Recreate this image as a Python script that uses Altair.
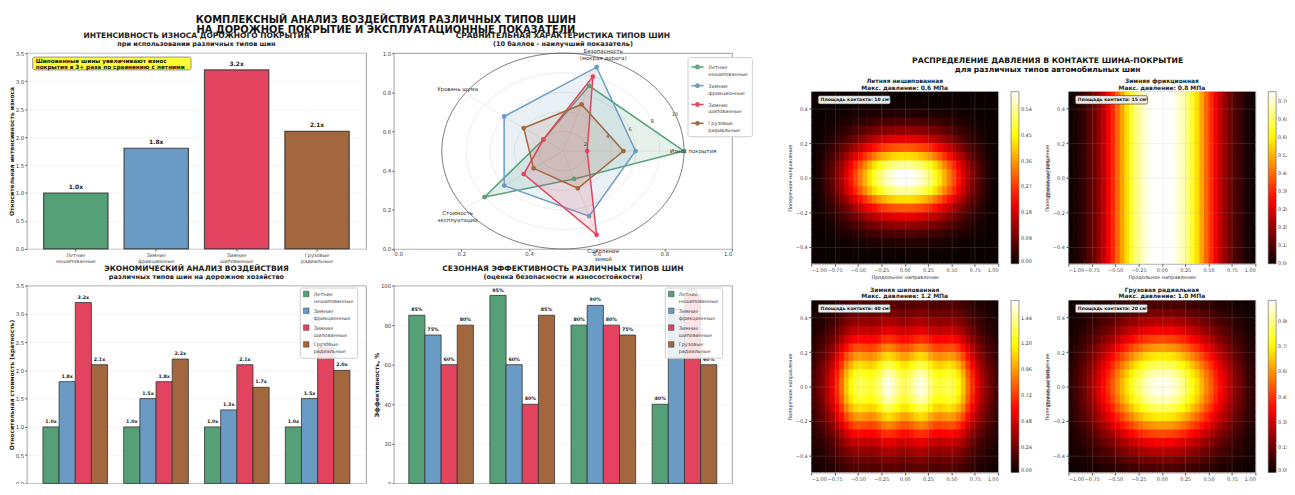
import altair as alt
import numpy as np
import pandas as pd

FONT = "DejaVu Sans"
INK = "#222222"
LABEL_SPLIT = "split(datum.label, '\\n')"

# ---------------- data ----------------
tire_types = ["Летние\nнешипованные", "Зимние\nфрикционные", "Зимние\nшипованные", "Грузовые\nрадиальные"]
tire_colors = ["#55a077", "#6a9bc4", "#e2445f", "#a2673e"]

wear_values = [1.0, 1.8, 3.2, 2.1]

radar_axes = ["Износ покрытия", "Безопасность\n(мокрая дорога)", "Уровень шума",
              "Стоимость\nэксплуатации", "Сцепление\nзимой"]
radar_summer = [10, 7, 2, 8, 3]
radar_friction = [6, 9, 6, 6, 7]
radar_studded = [2, 8, 2, 4, 9]
radar_truck = [5, 5, 4, 3, 4]
radar_ticks = [2, 4, 6, 8, 10]

econ_categories = ["Износ покрытия\n(ремонт дорог)", "Расходы на\nобслуживание",
                   "Экологический\nущерб", "Общие\nэксплуатационные"]
econ_summer = [1.0, 1.0, 1.0, 1.0]
econ_friction = [1.8, 1.5, 1.3, 1.5]
econ_studded = [3.2, 1.8, 2.1, 2.4]
econ_truck = [2.1, 2.2, 1.7, 2.0]

seasons = ["Весна", "Лето", "Осень", "Зима"]
season_summer = [85, 95, 80, 40]
season_friction = [75, 60, 90, 85]
season_studded = [60, 40, 80, 95]
season_truck = [80, 85, 75, 60]

main_title = ["КОМПЛЕКСНЫЙ АНАЛИЗ ВОЗДЕЙСТВИЯ РАЗЛИЧНЫХ ТИПОВ ШИН",
              "НА ДОРОЖНОЕ ПОКРЫТИЕ И ЭКСПЛУАТАЦИОННЫЕ ПОКАЗАТЕЛИ"]
pressure_title = ["РАСПРЕДЕЛЕНИЕ ДАВЛЕНИЯ В КОНТАКТЕ ШИНА-ПОКРЫТИЕ",
                  "для различных типов автомобильных шин"]

# pressure field: cell centres and profiles
grid_x = np.round(np.linspace(-0.975, 0.975, 40), 3)
grid_y = np.round(np.linspace(-0.475, 0.475, 20), 3)
HALF = 0.025

summer_x = [0.0, 0.02, 0.05, 0.09, 0.13, 0.18, 0.24, 0.31, 0.39, 0.47, 0.55, 0.63, 0.71, 0.78, 0.85, 0.9, 0.94, 0.97, 0.99, 1.0,
            1.0, 0.99, 0.97, 0.94, 0.9, 0.85, 0.78, 0.71, 0.63, 0.55, 0.47, 0.39, 0.31, 0.24, 0.18, 0.13, 0.09, 0.05, 0.02, 0.0]
summer_y = [0.0, 0.01, 0.04, 0.1, 0.2, 0.33, 0.5, 0.7, 0.9, 1.0, 1.0, 0.9, 0.7, 0.5, 0.33, 0.2, 0.1, 0.04, 0.01, 0.0]
friction_x = [0.04, 0.05, 0.07, 0.09, 0.12, 0.15, 0.19, 0.24, 0.3, 0.36, 0.43, 0.5, 0.57, 0.64, 0.7, 0.74, 0.77, 0.79, 0.8, 0.8,
              0.8, 0.8, 0.79, 0.77, 0.74, 0.7, 0.64, 0.57, 0.5, 0.43, 0.36, 0.3, 0.24, 0.19, 0.15, 0.12, 0.09, 0.07, 0.05, 0.04]
friction_y = [1.0, 1.0, 1.0, 1.0, 1.0, 1.0, 1.0, 1.0, 1.0, 1.0, 1.0, 1.0, 1.0, 1.0, 1.0, 1.0, 1.0, 1.0, 1.0, 1.0]
studded_x = [0.15, 0.22, 0.3, 0.4, 0.52, 0.68, 0.85, 1.05, 1.2, 1.3, 1.33, 1.3, 1.27, 1.3, 1.38, 1.5, 1.55, 1.5, 1.42, 1.35,
             1.35, 1.42, 1.5, 1.55, 1.5, 1.38, 1.3, 1.27, 1.3, 1.33, 1.3, 1.2, 1.05, 0.85, 0.68, 0.52, 0.4, 0.3, 0.22, 0.15]
studded_y = [0.13, 0.18, 0.25, 0.34, 0.45, 0.58, 0.72, 0.85, 0.95, 1.0, 1.0, 0.95, 0.85, 0.72, 0.58, 0.45, 0.34, 0.25, 0.18, 0.13]
truck_x = [0.05, 0.08, 0.12, 0.16, 0.21, 0.26, 0.32, 0.38, 0.44, 0.51, 0.58, 0.65, 0.72, 0.78, 0.84, 0.89, 0.94, 0.97, 0.99, 1.0,
           1.0, 0.99, 0.97, 0.94, 0.89, 0.84, 0.78, 0.72, 0.65, 0.58, 0.51, 0.44, 0.38, 0.32, 0.26, 0.21, 0.16, 0.12, 0.08, 0.05]
truck_y = [0.1, 0.17, 0.26, 0.36, 0.48, 0.61, 0.74, 0.86, 0.95, 1.0, 1.0, 0.95, 0.86, 0.74, 0.61, 0.48, 0.36, 0.26, 0.17, 0.1]

HOT = ["#0a0000", "#ff0000", "#ffff00", "#ffffff"]

# ---------------- helpers ----------------
PW, PH = 343, 198
PH2 = 200
ONE = pd.DataFrame({"k": [0]})


def type_scale():
    return alt.Scale(domain=tire_types, range=tire_colors)


def text_line(text, x, y, size, weight="bold", color=INK):
    return alt.Chart(ONE).mark_text(fontSize=size, fontWeight=weight, color=color, baseline="middle",
                                    align="center").encode(x=alt.value(x), y=alt.value(y), text=alt.value(text))


def panel_title(main, sub, width):
    return [text_line(main, width / 2, -17, 7.6), text_line(sub, width / 2, -9, 6.6)]


def cat_axis(**kw):
    base = dict(labelExpr=LABEL_SPLIT, labelAngle=0, labelFontSize=5, labelLineHeight=5.5,
                labelColor="#444", tickSize=2, tickColor="#555", labelPadding=2, domain=False, grid=False,
                titleFontSize=6, titleFontWeight="bold", titleColor=INK)
    base.update(kw)
    return alt.Axis(**base)


def val_axis(values, fmt, **kw):
    base = dict(values=values, format=fmt, labelFontSize=5.5, labelColor="#444", tickSize=2, tickColor="#555",
                labelPadding=1, domain=False, grid=True, gridColor="#ececec", gridWidth=0.6,
                titleFontSize=6, titleFontWeight="bold", titleColor=INK, titlePadding=0.5)
    base.update(kw)
    return alt.Axis(**base)


def inside_legend(lx, ly):
    return alt.Legend(title=None, orient="none", legendX=lx, legendY=ly, symbolType="square", symbolSize=32,
                      symbolStrokeColor="#444", symbolStrokeWidth=0.5,
                      labelExpr=LABEL_SPLIT, labelFontSize=5, labelColor="#444",
                      fillColor="rgba(255,255,255,0.85)", strokeColor="#cccccc", padding=3, cornerRadius=2,
                      rowPadding=2, labelLimit=120)


# ---------------- A: wear intensity ----------------
A_df = pd.DataFrame({"type": tire_types, "value": wear_values,
                     "label": [f"{v:.1f}x" for v in wear_values]})
A_base = alt.Chart(A_df).encode(
    x=alt.X("type:N", sort=tire_types, title=None,
            scale=alt.Scale(paddingInner=0.2, paddingOuter=0.21), axis=cat_axis()),
    y=alt.Y("value:Q", title="Относительная интенсивность износа",
            scale=alt.Scale(domain=[0, 3.5], nice=False),
            axis=val_axis([0, 0.5, 1, 1.5, 2, 2.5, 3, 3.5], ".1f")),
)
A_bars = A_base.mark_bar(stroke="#333333", strokeWidth=1.2, strokeOpacity=0.85).encode(
    color=alt.Color("type:N", scale=type_scale(), legend=None))
A_text = A_base.mark_text(baseline="bottom", dy=-3, fontSize=6, fontWeight="bold", color=INK).encode(text="label:N")
note_df = pd.DataFrame({"t": ["Шипованные шины увеличивают износ\nпокрытия в 3+ раза по сравнению с летними"]})
A_note_box = alt.Chart(note_df).mark_rect(fill="#ffff33", stroke="#777777", strokeWidth=0.8, cornerRadius=2).encode(
    x=alt.value(6), x2=alt.value(166), y=alt.value(4), y2=alt.value(17))
A_note_text = alt.Chart(note_df).mark_text(align="left", baseline="top", fontSize=5.8, fontWeight="bold",
                                           lineBreak="\n", lineHeight=6.3, color="#111").encode(
    x=alt.value(9), y=alt.value(5), text="t:N")
A_main = [text_line(main_title[0], 363, -33, 10, color="#111"), text_line(main_title[1], 363, -23, 10, color="#111")]
chart_A = alt.layer(
    A_bars, A_text, A_note_box, A_note_text, *A_main,
    *panel_title("ИНТЕНСИВНОСТЬ ИЗНОСА ДОРОЖНОГО ПОКРЫТИЯ", "при использовании различных типов шин", PW),
).properties(width=PW, height=PH)

# ---------------- B: radar ----------------
RX, RY = 0.358, 0.5
PX = f"0.5 + {RX} * datum.v / 10 * cos(datum.ang * PI / 180)"
PY = f"0.5 + {RY} * datum.v / 10 * sin(datum.ang * PI / 180)"
ux = alt.X("px:Q", title=None, scale=alt.Scale(domain=[0, 1], nice=False, zero=False),
           axis=val_axis([0, 0.2, 0.4, 0.6, 0.8, 1.0], ".1f", grid=False))
uy = alt.Y("py:Q", title=None, scale=alt.Scale(domain=[0, 1], nice=False, zero=False),
           axis=val_axis([0, 0.2, 0.4, 0.6, 0.8, 1.0], ".1f", grid=False))

radar_series = [radar_summer, radar_friction, radar_studded, radar_truck]
R_df = pd.DataFrame([{"tid": i, "type": t, "k": k, "v": v}
                     for i, (t, vals) in enumerate(zip(tire_types, radar_series))
                     for k, v in enumerate(vals)])
ring_df = pd.DataFrame([{"v": r, "ang": d} for r in radar_ticks for d in range(0, 361, 3)])
spoke_df = pd.DataFrame([{"k": k, "v": v} for k in range(len(radar_axes)) for v in (0, 10)])
lab_df = pd.DataFrame({"k": list(range(len(radar_axes))), "label": radar_axes, "v": [10.75] * len(radar_axes)})
rtick_df = pd.DataFrame({"v": radar_ticks, "t": [str(v) for v in radar_ticks]})

rings = alt.Chart(ring_df).transform_filter("datum.v < 10").transform_calculate(px=PX, py=PY).mark_line(
    color="#e0e0e0", strokeWidth=0.6).encode(x=ux, y=uy, detail="v:N", order="ang:Q")
outer = alt.Chart(ring_df).transform_filter("datum.v == 10").transform_calculate(px=PX, py=PY).mark_line(
    color="#444444", strokeWidth=0.7).encode(x=ux, y=uy, order="ang:Q")
spokes = alt.Chart(spoke_df).transform_calculate(ang="datum.k * 72").transform_calculate(px=PX, py=PY).mark_line(
    color="#e0e0e0", strokeWidth=0.6).encode(x=ux, y=uy, detail="k:N", order="v:Q")
polys = []
for i, c in enumerate(tire_colors):
    polys.append(
        alt.Chart(R_df).transform_filter(f"datum.tid == {i}").transform_calculate(ang="datum.k * 72")
        .transform_calculate(px=PX, py=PY)
        .mark_line(interpolate="linear-closed", color=c, fill=c, fillOpacity=0.15, strokeWidth=1.5)
        .encode(x=ux, y=uy, order="k:Q"))
radar_pts = alt.Chart(R_df).transform_calculate(ang="datum.k * 72").transform_calculate(px=PX, py=PY).mark_point(
    filled=False, size=8, strokeWidth=2, opacity=1).encode(
    x=ux, y=uy,
    color=alt.Color("type:N", scale=type_scale(), legend=alt.Legend(
        title=None, orient="none", legendX=297, legendY=4,
        symbolType="M-1,0L1,0M-0.28,0A0.28,0.28,0,1,1,0.28,0A0.28,0.28,0,1,1,-0.28,0",
        symbolSize=150, symbolStrokeWidth=1.5, labelExpr=LABEL_SPLIT, labelFontSize=5,
        labelColor="#444", fillColor="white", strokeColor="#cccccc", padding=3, cornerRadius=2, rowPadding=2)))
labels_radar = alt.Chart(lab_df).transform_calculate(ang="datum.k * 72").transform_calculate(px=PX, py=PY).mark_text(
    fontSize=5.5, color="#333", lineBreak="\n", align="center", baseline="middle").encode(x=ux, y=uy, text="label:N")
rticks = alt.Chart(rtick_df).transform_calculate(ang="22.5").transform_calculate(px=PX, py=PY).mark_text(
    fontSize=5, color="#444").encode(x=ux, y=uy, text="t:N")
chart_B = alt.layer(
    rings, spokes, outer, *polys, radar_pts, labels_radar, rticks,
    *panel_title("СРАВНИТЕЛЬНАЯ ХАРАКТЕРИСТИКА ТИПОВ ШИН", "(10 баллов - наилучший показатель)", 342),
).properties(width=342, height=PH)

# ---------------- C: economics ----------------
econ_series = [econ_summer, econ_friction, econ_studded, econ_truck]
C_df = pd.DataFrame([{"cat": c, "type": t, "value": v, "label": f"{v:.1f}x"}
                     for t, vals in zip(tire_types, econ_series) for c, v in zip(econ_categories, vals)])
C_base = alt.Chart(C_df).encode(
    x=alt.X("cat:N", sort=econ_categories, title=None,
            scale=alt.Scale(paddingInner=0.2, paddingOuter=0.2), axis=cat_axis()),
    xOffset=alt.XOffset("type:N", sort=tire_types, scale=alt.Scale(paddingInner=0, paddingOuter=0)),
    y=alt.Y("value:Q", title="Относительная стоимость (кратность)",
            scale=alt.Scale(domain=[0, 3.5], nice=False),
            axis=val_axis([0, 0.5, 1, 1.5, 2, 2.5, 3, 3.5], ".1f")),
)
C_bars = C_base.mark_bar(stroke="#333333", strokeWidth=1, strokeOpacity=0.8).encode(
    color=alt.Color("type:N", scale=type_scale(), legend=inside_legend(276, 2)))
C_text = C_base.mark_text(baseline="bottom", dy=-3, fontSize=4.8, fontWeight="bold", color=INK).encode(text="label:N")
chart_C = alt.layer(
    C_bars, C_text,
    *panel_title("ЭКОНОМИЧЕСКИЙ АНАЛИЗ ВОЗДЕЙСТВИЯ", "различных типов шин на дорожное хозяйство", PW),
).properties(width=PW, height=PH2)

# ---------------- D: seasons ----------------
season_series = [season_summer, season_friction, season_studded, season_truck]
D_df = pd.DataFrame([{"season": s, "type": t, "value": v, "label": f"{v}%"}
                     for t, vals in zip(tire_types, season_series) for s, v in zip(seasons, vals)])
D_base = alt.Chart(D_df).encode(
    x=alt.X("season:N", sort=seasons, title="Сезон",
            scale=alt.Scale(paddingInner=0.2, paddingOuter=0.185),
            axis=alt.Axis(labelAngle=0, labelFontSize=6.5, labelFontWeight="bold", labelColor=INK, tickSize=2,
                          tickColor="#555", domain=False, titleFontSize=6, titleFontWeight="bold", titleColor=INK,
                          labelPadding=2)),
    xOffset=alt.XOffset("type:N", sort=tire_types, scale=alt.Scale(paddingInner=0, paddingOuter=0)),
    y=alt.Y("value:Q", title="Эффективность, %", scale=alt.Scale(domain=[0, 100], nice=False),
            axis=val_axis([0, 20, 40, 60, 80, 100], "d")),
)
D_bars = D_base.mark_bar(stroke="#333333", strokeWidth=1, strokeOpacity=0.8).encode(
    color=alt.Color("type:N", scale=type_scale(), legend=inside_legend(274, 2)))
D_text = D_base.mark_text(baseline="bottom", dy=-3, fontSize=4.8, fontWeight="bold", color=INK).encode(text="label:N")
chart_D = alt.layer(
    D_bars, D_text,
    *panel_title("СЕЗОННАЯ ЭФФЕКТИВНОСТЬ РАЗЛИЧНЫХ ТИПОВ ШИН", "(оценка безопасности и износостойкости)", 342),
).properties(width=342, height=PH2)

# ---------------- heat maps ----------------
HW, HH = 189, 174
OVER = 0.006  # small overlap so neighbouring cells leave no hairline seams


def heat_panel(key, title_lines, prof_x, prof_y, peak, dom, ticks, area_text, with_cb_title, extra=()):
    rows = []
    for j, gy in enumerate(grid_y):
        for i, gx in enumerate(grid_x):
            rows.append({"x0": gx - HALF, "x1": gx + HALF + OVER, "y0": gy - HALF, "y1": gy + HALF + OVER,
                         key: round(peak * prof_x[i] * prof_y[j], 4)})
    df = pd.DataFrame(rows)
    lo, hi = dom
    cscale = alt.Scale(domain=[lo, lo + 0.365 * (hi - lo), lo + 0.746 * (hi - lo), hi], range=HOT,
                       interpolate="rgb", clamp=True)
    rect = alt.Chart(df).mark_rect(clip=True).encode(
        x=alt.X("x0:Q", title="Продольное направление", scale=alt.Scale(domain=[-1, 1], nice=False, zero=False),
                axis=alt.Axis(values=[-1, -0.75, -0.5, -0.25, 0, 0.25, 0.5, 0.75, 1], format=".2f",
                              labelFontSize=5, labelColor="#444", tickSize=2.5, tickColor="#555", domain=False,
                              grid=True, gridColor="#b0b0b0", gridOpacity=0.3, gridWidth=0.6, zindex=1,
                              titleFontSize=5, titleFontWeight="normal", titleColor="#333", titlePadding=2,
                              labelPadding=1.5)),
        x2="x1:Q",
        y=alt.Y("y0:Q", title="Поперечное направление", scale=alt.Scale(domain=[-0.5, 0.5], nice=False, zero=False),
                axis=alt.Axis(values=[-0.4, -0.2, 0, 0.2, 0.4], format=".1f",
                              labelFontSize=5, labelColor="#444", tickSize=2.5, tickColor="#555", domain=False,
                              grid=True, gridColor="#b0b0b0", gridOpacity=0.3, gridWidth=0.6, zindex=1,
                              titleFontSize=5, titleFontWeight="normal", titleColor="#333", titlePadding=3,
                              labelPadding=1.5)),
        y2="y1:Q",
        color=alt.Color(f"{key}:Q", scale=cscale, legend=alt.Legend(
            type="gradient", title=None, orient="right", offset=13, direction="vertical", gradientLength=HH,
            gradientThickness=8, values=ticks, format=".2f", labelFontSize=5, labelColor="#333",
            gradientStrokeColor="#555", gradientStrokeWidth=0.6, labelOverlap=False, labelOffset=2)),
    )
    one = pd.DataFrame({"t": [area_text]})
    box = alt.Chart(one).mark_rect(fill="#ececec", stroke="#333", strokeWidth=0.6, cornerRadius=1.5).encode(
        x=alt.value(7), x2=alt.value(80), y=alt.value(4), y2=alt.value(12.5))
    txt = alt.Chart(one).mark_text(align="left", baseline="middle", fontSize=4.6, fontWeight="bold",
                                   color="#111").encode(x=alt.value(9.5), y=alt.value(8.5), text="t:N")
    layers = [rect, box, txt,
              text_line(title_lines[0], HW / 2, -11, 6), text_line(title_lines[1], HW / 2, -4, 6)]
    if with_cb_title:
        layers.append(alt.Chart(ONE).mark_text(angle=270, fontSize=5, color="#333", baseline="middle").encode(
            x=alt.value(HW + 50), y=alt.value(HH / 2), text=alt.value("Давление, МПа")))
    layers.extend(extra)
    return alt.layer(*layers).properties(width=HW, height=HH)


pressure_text = [text_line(pressure_title[0], 239, -31, 7.8, color="#111"),
                 text_line(pressure_title[1], 239, -22, 7.6, color="#111")]

H1 = heat_panel("p_summer", ["Летняя нешипованная", "Макс. давление: 0.6 МПа"], summer_x, summer_y, 0.6,
                (0, 0.6), [0, 0.09, 0.18, 0.27, 0.36, 0.45, 0.54], "Площадь контакта: 10 см²", True, pressure_text)
H2 = heat_panel("p_friction", ["Зимняя фрикционная", "Макс. давление: 0.8 МПа"], friction_x, friction_y, 1.0,
                (0.035, 0.8), [0.04, 0.12, 0.2, 0.28, 0.36, 0.44, 0.52, 0.6, 0.68, 0.76], "Площадь контакта: 15 см²",
                False)
H3 = heat_panel("p_studded", ["Зимняя шипованная", "Макс. давление: 1.2 МПа"], studded_x, studded_y, 1.0,
                (0, 1.6), [0, 0.24, 0.48, 0.72, 0.96, 1.2, 1.44], "Площадь контакта: 40 см²", True)
H4 = heat_panel("p_truck", ["Грузовая радиальная", "Макс. давление: 1.0 МПа"], truck_x, truck_y, 1.0,
                (0, 1.02), [0, 0.15, 0.3, 0.45, 0.6, 0.75, 0.9], "Площадь контакта: 20 см²", False)

# ---------------- layout ----------------
left = alt.concat(
    chart_A, chart_B, chart_C, chart_D, columns=2, bounds="flush",
    spacing={"row": 37, "column": 28},
).resolve_scale(color="independent")

right_grid = alt.concat(
    H1, H2, H3, H4, columns=2, bounds="flush", spacing={"row": 37, "column": 71},
).resolve_scale(color="independent")

spacer = alt.Chart(ONE).mark_point(opacity=0, size=1).encode(
    x=alt.value(0), y=alt.value(0)).properties(width=10, height=1,
                                               view=alt.ViewBackground(stroke="transparent"))
right = alt.vconcat(spacer, right_grid, spacing=1).resolve_scale(color="independent")

chart = alt.hconcat(left, right, spacing=33).resolve_scale(
    color="independent"
).properties(
    padding={"left": 0, "top": 4, "right": -4, "bottom": -24}
).configure(font=FONT).configure_view(stroke="#b0b0b0", strokeWidth=1.2)

chart.save("out.html", embed_options={"renderer": "svg", "actions": False})
